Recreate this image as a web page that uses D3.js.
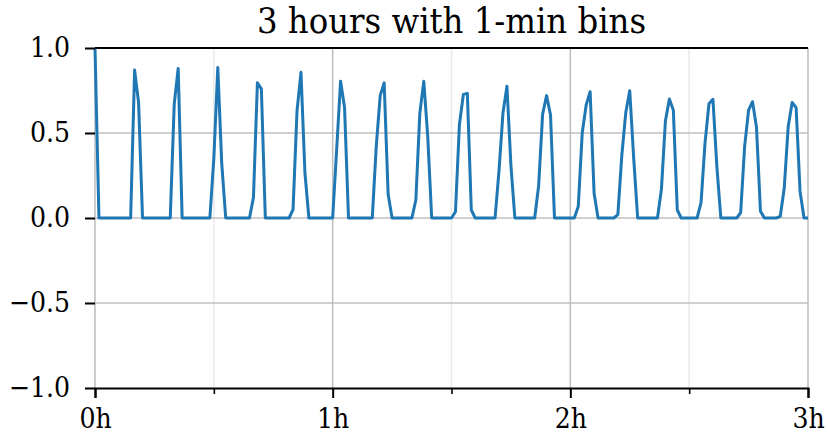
<!DOCTYPE html>
<html><head><meta charset="utf-8">
<script src="https://cdn.jsdelivr.net/npm/d3@7"></script>
<style>body{margin:0;background:#fff}svg{display:block}</style>
</head><body><div id="chart"></div>
<script>
const title = "3 hours with 1-min bins";
const minutes = d3.range(0, 181);
const values = [
 1.0, 0, 0, 0, 0, 0, 0, 0, 0, 0,
 0.87, 0.68, 0, 0, 0, 0, 0, 0, 0, 0,
 0.67, 0.88, 0, 0, 0, 0, 0, 0, 0, 0,
 0.35, 0.885, 0.32, 0, 0, 0, 0, 0, 0, 0,
 0.12, 0.795, 0.76, 0, 0, 0, 0, 0, 0, 0,
 0.05, 0.63, 0.857, 0.265, 0, 0, 0, 0, 0, 0,
 0, 0.40, 0.805, 0.65, 0, 0, 0, 0, 0, 0,
 0, 0.42, 0.72, 0.795, 0.14, 0, 0, 0, 0, 0,
 0, 0.106, 0.615, 0.805, 0.48, 0, 0, 0, 0, 0,
 0, 0.037, 0.55, 0.727, 0.733, 0.047, 0, 0, 0, 0,
 0, 0, 0.28, 0.62, 0.775, 0.31, 0, 0, 0, 0,
 0, 0, 0.19, 0.61, 0.72, 0.606, 0, 0, 0, 0,
 0, 0, 0.067, 0.5, 0.665, 0.743, 0.145, 0, 0, 0,
 0, 0, 0.02, 0.37, 0.62, 0.748, 0.35, 0, 0, 0,
 0, 0, 0, 0.17, 0.57, 0.70, 0.635, 0.047, 0, 0,
 0, 0, 0, 0.09, 0.44, 0.672, 0.698, 0.3, 0, 0,
 0, 0, 0, 0.032, 0.42, 0.635, 0.684, 0.532, 0.04, 0,
 0, 0, 0, 0.01, 0.175, 0.537, 0.68, 0.649, 0.155, 0,
 0
];
const xMajorTicks = [0, 60, 120, 180];
const xMajorLabels = ["0h", "1h", "2h", "3h"];
const xMinorTicks = [30, 90, 150];
const yTicks = [-1, -0.5, 0, 0.5, 1];

const W = 828, H = 438;
const m = {left: 95, right: 20, top: 48, bottom: 50};
const iw = W - m.left - m.right, ih = H - m.top - m.bottom;
const font = "'DejaVu Serif Condensed', 'DejaVu Serif', serif";

const svg = d3.select("#chart").append("svg").attr("width", W).attr("height", H);
const g = svg.append("g").attr("transform", `translate(${m.left},${m.top})`);

const x = d3.scaleLinear().domain([0, 180]).range([0, iw]);
const y = d3.scaleLinear().domain([-1, 1]).range([ih, 0]);

// minor vertical grid
g.append("g").selectAll("line").data(xMinorTicks).join("line")
  .attr("x1", d => x(d)).attr("x2", d => x(d)).attr("y1", 0).attr("y2", ih)
  .attr("stroke", "#ebebeb").attr("stroke-width", 1.6);
// major vertical grid
g.append("g").selectAll("line").data(xMajorTicks).join("line")
  .attr("x1", d => x(d)).attr("x2", d => x(d)).attr("y1", 0).attr("y2", ih)
  .attr("stroke", "#c0c0c0").attr("stroke-width", 1.6);
// horizontal grid
g.append("g").selectAll("line").data(yTicks.filter(d => d > -1 && d < 1)).join("line")
  .attr("x1", 0).attr("x2", iw).attr("y1", d => y(d)).attr("y2", d => y(d))
  .attr("stroke", "#c0c0c0").attr("stroke-width", 1.6);

// line
const line = d3.line().x((d, i) => x(minutes[i])).y(d => y(d));
g.append("path").datum(values).attr("d", line)
  .attr("fill", "none").attr("stroke", "#1f77b4").attr("stroke-width", 3)
  .attr("stroke-linejoin", "round");

// top spine
g.append("line").attr("x1", 0).attr("x2", iw).attr("y1", 0).attr("y2", 0)
  .attr("stroke", "#000").attr("stroke-width", 2);

// x axis
const xAxis = d3.axisBottom(x).tickValues(xMajorTicks)
  .tickFormat((d, i) => xMajorLabels[i]).tickSize(10).tickPadding(10);
const xg = g.append("g").attr("transform", `translate(0,${ih})`).call(xAxis);
xg.select(".domain").attr("stroke", "#000").attr("stroke-width", 2);
xg.selectAll(".tick line").attr("stroke", "#000").attr("stroke-width", 2);
xg.selectAll("text").attr("font-family", font).attr("font-size", 28).attr("fill", "#000");
const xMinor = d3.axisBottom(x).tickValues(xMinorTicks).tickFormat("").tickSize(6);
const xmg = g.append("g").attr("transform", `translate(0,${ih})`).call(xMinor);
xmg.select(".domain").remove();
xmg.selectAll(".tick line").attr("stroke", "#000").attr("stroke-width", 1.6);

// y axis
const yAxis = d3.axisLeft(y).tickValues(yTicks)
  .tickFormat(d => d3.format(".1f")(d).replace("-", "\u2212")).tickSize(10).tickPadding(15);
const yg = g.append("g").call(yAxis);
yg.select(".domain").remove();
yg.selectAll(".tick line").attr("stroke", "#000").attr("stroke-width", 2);
yg.selectAll("text").attr("font-family", font).attr("font-size", 28).attr("fill", "#000");

// title
svg.append("text").attr("x", m.left + iw / 2).attr("y", 33)
  .attr("text-anchor", "middle").attr("font-family", font).attr("font-size", 36)
  .attr("fill", "#000").text(title);
</script></body></html>
